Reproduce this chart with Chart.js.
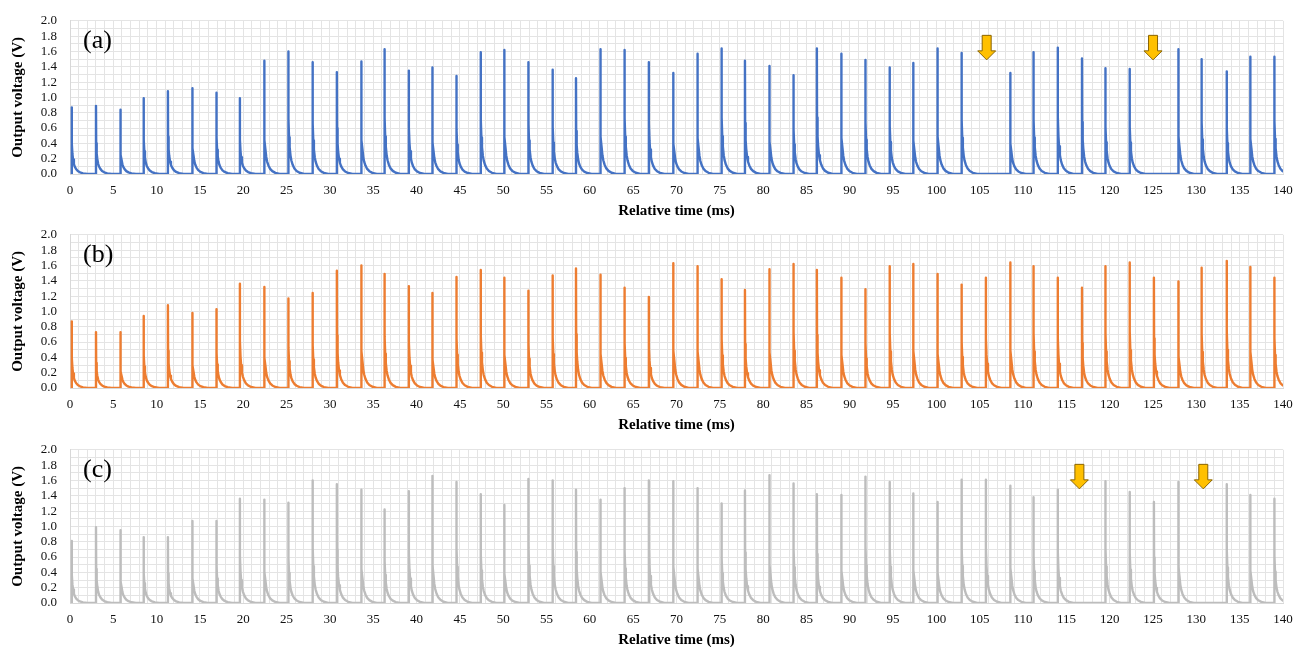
<!DOCTYPE html>
<html lang="en">
<head>
    <meta charset="UTF-8">
    <title>Output voltage</title>
    <script src="https://cdn.jsdelivr.net/npm/chart.js"></script>
    <style>
        body { margin: 0; background: #fff; overflow: hidden; }
        .panel { position: absolute; left: 0; width: 1296px; height: 222px; }
    </style>
</head>
<body>
    <div class="panel" style="top:0px"><canvas id="chartA" width="1296" height="222"></canvas></div>
    <div class="panel" style="top:214px"><canvas id="chartB" width="1296" height="222"></canvas></div>
    <div class="panel" style="top:429px"><canvas id="chartC" width="1296" height="222"></canvas></div>

    <script>
        // spike onset times (ms), same for all three panels
        const spikeTimes = [0.2, 3.0, 5.8, 8.5, 11.3, 14.1, 16.9, 19.6, 22.4, 25.2, 28.0, 30.8, 33.6, 36.3, 39.1, 41.8,
            44.6, 47.4, 50.1, 52.9, 55.7, 58.4, 61.2, 64.0, 66.8, 69.6, 72.4, 75.2, 77.9, 80.7, 83.5, 86.2, 89.0,
            91.8, 94.6, 97.3, 100.1, 102.9, 105.7, 108.5, 111.2, 114.0, 116.8, 119.5, 122.3, 125.1, 127.9, 130.6, 133.5, 136.2, 139.0];

        // peak voltages (V), null = missing pulse
        const peaksA = [0.87, 0.89, 0.84, 0.99, 1.08, 1.12, 1.06, 0.99, 1.48, 1.60, 1.46, 1.33, 1.47, 1.63, 1.35, 1.39,
            1.28, 1.59, 1.62, 1.46, 1.36, 1.25, 1.63, 1.62, 1.46, 1.32, 1.57, 1.64, 1.48, 1.41, 1.29, 1.64, 1.57,
            1.49, 1.39, 1.45, 1.64, 1.58, null, 1.32, 1.59, 1.65, 1.51, 1.38, 1.37, null, 1.63, 1.50, 1.34, 1.53, 1.53];
        const peaksB = [0.87, 0.73, 0.73, 0.94, 1.08, 0.98, 1.03, 1.36, 1.32, 1.17, 1.24, 1.53, 1.60, 1.49, 1.33, 1.24,
            1.45, 1.54, 1.44, 1.27, 1.47, 1.56, 1.48, 1.31, 1.19, 1.63, 1.59, 1.42, 1.28, 1.55, 1.62, 1.54, 1.44,
            1.29, 1.59, 1.62, 1.49, 1.35, 1.44, 1.64, 1.59, 1.44, 1.31, 1.59, 1.64, 1.44, 1.39, 1.57, 1.66, 1.58, 1.44];
        const peaksC = [0.81, 0.99, 0.95, 0.86, 0.86, 1.07, 1.07, 1.36, 1.35, 1.31, 1.60, 1.55, 1.48, 1.22, 1.46, 1.66,
            1.58, 1.42, 1.28, 1.62, 1.60, 1.48, 1.35, 1.50, 1.60, 1.59, 1.50, 1.30, 1.47, 1.67, 1.56, 1.42, 1.41,
            1.65, 1.58, 1.43, 1.32, 1.61, 1.61, 1.53, 1.38, 1.48, null, 1.59, 1.45, 1.32, 1.58, null, 1.55, 1.41, 1.36];

        // decay after each peak (ms after onset, fraction of peak)
        const decayOffsets = [0, 0.02, 0.08, 0.15, 0.25, 0.35, 0.5, 0.7, 0.95, 1.3, 1.8];
        const decayFractions = [1, 0.45, 0.3, 0.22, 0.15, 0.11, 0.075, 0.045, 0.025, 0.01, 0];

        // arrows marking missing pulses (ms)
        const arrowsA = [105.8, 125.0];
        const arrowsC = [116.5, 130.8];
        const arrowTopV = 1.81;
        const arrowTipV = 1.49;

        const serif = "'Liberation Serif', 'Times New Roman', serif";

        function buildTrace(peaks) {
            const pts = [];
            spikeTimes.forEach((t, i) => {
                const p = peaks[i];
                if (p === null) return;
                pts.push({ x: t, y: 0 });
                decayOffsets.forEach((off, k) => {
                    pts.push({ x: t + off, y: p * decayFractions[k] });
                });
            });
            return pts;
        }

        const panelDecor = {
            id: 'panelDecor',
            afterDatasetsDraw(chart, args, opts) {
                const ctx = chart.ctx;
                const area = chart.chartArea;
                const xs = chart.scales.x, ys = chart.scales.y;
                ctx.save();
                // panel letter
                ctx.fillStyle = '#000';
                ctx.font = '26px ' + serif;
                ctx.textBaseline = 'alphabetic';
                ctx.fillText(opts.letter, area.left + 13, area.top + 27);
                // arrows
                (opts.arrows || []).forEach(t => {
                    const x = xs.getPixelForValue(t);
                    const y0 = ys.getPixelForValue(arrowTopV);
                    const y1 = ys.getPixelForValue(arrowTipV);
                    const yh = y1 - 9;
                    ctx.beginPath();
                    ctx.moveTo(x - 4.5, y0);
                    ctx.lineTo(x + 4.5, y0);
                    ctx.lineTo(x + 4.5, yh);
                    ctx.lineTo(x + 9, yh);
                    ctx.lineTo(x, y1);
                    ctx.lineTo(x - 9, yh);
                    ctx.lineTo(x - 4.5, yh);
                    ctx.closePath();
                    ctx.fillStyle = '#FFC000';
                    ctx.fill();
                    ctx.strokeStyle = '#8a6400';
                    ctx.lineWidth = 1;
                    ctx.stroke();
                });
                ctx.restore();
            }
        };

        function makePanel(id, peaks, color, letter, arrows) {
            const gridColor = '#e4e4e4';
            return new Chart(document.getElementById(id), {
                type: 'scatter',
                data: {
                    datasets: [{
                        data: buildTrace(peaks),
                        showLine: true,
                        borderColor: color,
                        borderWidth: 2.4,
                        borderJoinStyle: 'round',
                        pointRadius: 0,
                        tension: 0
                    }]
                },
                options: {
                    responsive: false,
                    animation: false,
                    layout: { padding: { top: 18, right: 13, left: 0, bottom: 0 } },
                    plugins: {
                        legend: { display: false },
                        tooltip: { enabled: false },
                        panelDecor: { letter: letter, arrows: arrows }
                    },
                    scales: {
                        x: {
                            type: 'linear',
                            min: 0,
                            max: 140,
                            afterFit: s => { s.height = 48; s.paddingLeft = 0; s.paddingRight = 0; },
                            grid: { color: gridColor, drawTicks: false },
                            border: { color: '#d8d8d8' },
                            ticks: {
                                stepSize: 1,
                                autoSkip: false,
                                maxRotation: 0,
                                padding: 9,
                                color: '#111',
                                font: { family: serif, size: 13 },
                                callback: v => (Math.round(v) % 5 === 0 ? Math.round(v) : '')
                            },
                            title: {
                                display: true,
                                text: 'Relative time (ms)',
                                color: '#000',
                                padding: { top: 0, bottom: 2 },
                                font: { family: serif, size: 15, weight: 'bold' }
                            }
                        },
                        y: {
                            min: 0,
                            max: 2,
                            afterFit: s => { s.width = 70; },
                            grid: { color: gridColor, drawTicks: false },
                            border: { color: '#d8d8d8' },
                            ticks: {
                                stepSize: 0.1,
                                autoSkip: false,
                                padding: 13,
                                color: '#111',
                                font: { family: serif, size: 13 },
                                callback: v => (Math.round(v * 10) % 2 === 0 ? v.toFixed(1) : '')
                            },
                            title: {
                                display: true,
                                text: 'Output voltage (V)',
                                color: '#000',
                                padding: { top: 9, bottom: 0 },
                                font: { family: serif, size: 15, weight: 'bold' }
                            }
                        }
                    }
                },
                plugins: [panelDecor]
            });
        }

        makePanel('chartA', peaksA, '#4472C4', '(a)', arrowsA);
        makePanel('chartB', peaksB, '#ED7D31', '(b)', []);
        makePanel('chartC', peaksC, '#BDBDBD', '(c)', arrowsC);
    </script>
</body>
</html>
